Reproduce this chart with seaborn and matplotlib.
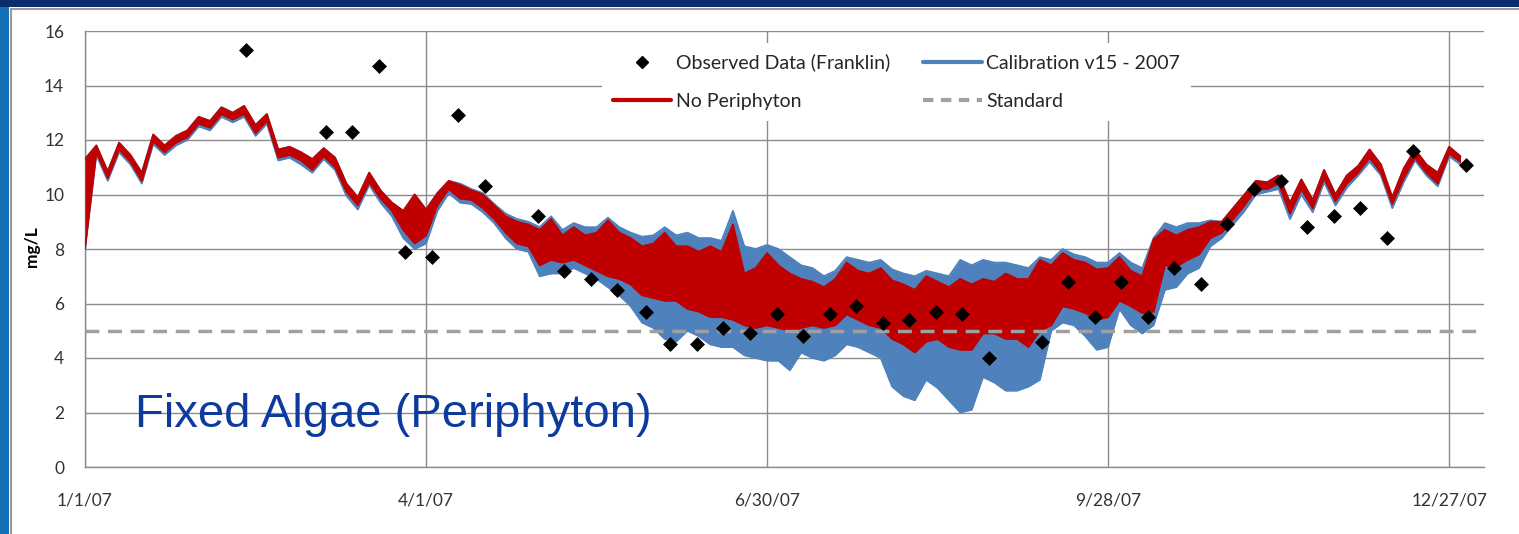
import matplotlib
matplotlib.use("Agg")
import matplotlib.pyplot as plt
from matplotlib.lines import Line2D
from matplotlib.patches import Rectangle
import seaborn as sns
import pandas as pd
import numpy as np

# ---------------- data ----------------
base_date = pd.Timestamp("2007-01-01")
model_step_days = 3          # model series sampled every 3 days from 1/1/07
n_model = 122

red_lo = [
    8.0, 11.55, 10.6, 11.65, 11.2, 10.5, 11.95, 11.55, 11.9, 12.1,
    12.6, 12.45, 12.95, 12.75, 12.95, 12.25, 12.7, 11.35, 11.45, 11.25,
    10.9, 11.4, 11.0, 10.1, 9.6, 10.45, 9.85, 9.4, 8.7, 8.2,
    8.5, 9.6, 10.2, 9.85, 9.8, 9.5, 9.1, 8.6, 8.2, 8.1,
    7.4, 7.6, 7.5, 7.6, 7.4, 7.2, 7.0, 6.9, 6.7, 6.3,
    6.2, 6.1, 6.1, 5.8, 5.7, 5.5, 5.5, 5.4, 5.2, 5.1,
    5.2, 5.1, 5.0, 5.1, 5.2, 5.1, 5.2, 5.6, 5.4, 5.2,
    5.1, 4.7, 4.5, 4.2, 4.6, 4.7, 4.4, 4.3, 4.3, 4.9,
    4.9, 4.7, 4.7, 4.4, 5.0, 5.2, 5.9, 5.8, 5.65, 5.4,
    5.5, 6.1, 5.9, 5.65, 5.7, 7.4, 7.35, 7.6, 7.8, 8.4,
    8.6, 9.1, 9.6, 10.2, 10.2, 10.4, 9.3, 10.2, 9.5, 10.6,
    9.75, 10.4, 10.8, 11.35, 10.8, 9.65, 10.6, 11.35, 10.8, 10.4,
    11.5, 11.2,
]
red_hi = [
    11.3, 11.8, 10.85, 11.9, 11.45, 10.8, 12.2, 11.8, 12.15, 12.35,
    12.85, 12.7, 13.2, 13.0, 13.25, 12.55, 12.95, 11.65, 11.75, 11.55,
    11.3, 11.7, 11.35, 10.4, 9.9, 10.8, 10.15, 9.7, 9.4, 10.0,
    9.45, 10.05, 10.5, 10.35, 10.15, 10.0, 9.6, 9.2, 9.0, 8.9,
    8.7, 9.1, 8.5, 8.8, 8.5, 8.6, 9.05, 8.6, 8.4, 8.1,
    8.2, 8.6, 8.1, 8.1, 7.9, 8.1, 7.9, 8.9, 7.1, 7.3,
    7.85, 7.4, 7.1, 6.9, 6.8, 6.6, 6.9, 7.5, 7.2, 7.1,
    7.3, 6.85, 6.7, 6.5, 7.0, 6.8, 6.6, 6.9, 6.7, 6.9,
    6.8, 7.1, 6.9, 6.9, 7.6, 7.4, 7.85, 7.6, 7.5, 7.25,
    7.3, 7.7, 7.2, 7.0, 8.35, 8.7, 8.5, 8.7, 8.8, 9.0,
    9.0, 9.5, 10.0, 10.5, 10.45, 10.7, 9.7, 10.55, 9.8, 10.9,
    10.0, 10.7, 11.05, 11.65, 11.1, 9.9, 10.95, 11.65, 11.1, 10.8,
    11.75, 11.4,
]
blue_lo = [
    8.0, 11.45, 10.5, 11.55, 11.1, 10.4, 11.85, 11.45, 11.8, 12.0,
    12.5, 12.35, 12.85, 12.65, 12.85, 12.15, 12.6, 11.25, 11.35, 11.1,
    10.8, 11.3, 10.9, 9.95, 9.45, 10.35, 9.7, 9.2, 8.4, 8.0,
    8.2, 9.4, 10.05, 9.7, 9.65, 9.35, 8.95, 8.4, 8.0, 7.9,
    7.0, 7.1, 7.1, 7.3, 7.1, 6.9, 6.6, 6.3, 5.9, 5.3,
    5.1, 4.7, 4.6, 5.0, 4.8, 4.5, 4.4, 4.4, 4.1, 4.0,
    3.9, 3.9, 3.55, 4.2, 4.0, 3.9, 4.1, 4.5, 4.4, 4.2,
    4.0, 2.95, 2.6, 2.45, 3.2, 2.9, 2.45, 2.0, 2.1, 3.3,
    3.1, 2.8, 2.8, 2.95, 3.2, 5.0, 5.3, 5.2, 4.8, 4.3,
    4.4, 5.8, 5.2, 4.9, 5.2, 6.5, 6.6, 7.1, 7.3, 8.1,
    8.4, 8.9, 9.4, 10.0, 10.1, 10.2, 9.1, 10.0, 9.35, 10.45,
    9.6, 10.25, 10.7, 11.2, 10.7, 9.5, 10.45, 11.25, 10.7, 10.3,
    11.4, 11.1,
]
blue_hi = [
    11.3, 11.8, 10.85, 11.9, 11.45, 10.8, 12.2, 11.8, 12.15, 12.35,
    12.85, 12.7, 13.2, 13.0, 13.25, 12.55, 12.95, 11.65, 11.75, 11.55,
    11.3, 11.7, 11.35, 10.4, 9.9, 10.8, 10.15, 9.7, 9.4, 10.0,
    9.45, 10.05, 10.5, 10.4, 10.2, 10.05, 9.65, 9.3, 9.1, 9.0,
    8.8, 9.2, 8.7, 8.95, 8.8, 8.8, 9.15, 8.8, 8.6, 8.45,
    8.5, 8.8, 8.5, 8.6, 8.4, 8.4, 8.3, 9.4, 8.1, 8.0,
    8.15, 8.0, 7.7, 7.4, 7.3, 7.0, 7.2, 7.7, 7.6, 7.5,
    7.6, 7.25, 7.1, 7.0, 7.2, 7.1, 7.0, 7.6, 7.4, 7.6,
    7.5, 7.5, 7.4, 7.3, 7.7, 7.6, 8.0, 7.8, 7.7, 7.5,
    7.5, 7.85, 7.5, 7.3, 8.4, 8.95, 8.8, 8.95, 8.95, 9.05,
    9.0, 9.5, 10.0, 10.5, 10.45, 10.7, 9.7, 10.55, 9.8, 10.9,
    10.0, 10.7, 11.05, 11.65, 11.1, 9.9, 10.95, 11.65, 11.1, 10.8,
    11.75, 11.4,
]

obs_day = [42.5, 63.5, 70.5, 77.5, 84.5, 91.5, 98.5, 105.5,
           119.5, 126.5, 133.5, 140.5, 148.0, 154.5, 161.5, 168.5, 175.5, 182.5,
           189.5, 196.5, 203.5, 210.5, 217.5, 224.5, 231.5, 238.5,
           252.5, 259.5, 266.5, 273.5, 280.5, 287.5, 294.5,
           301.5, 308.5, 315.5, 322.5, 329.5, 336.5, 343.5, 350.5, 364.5]
obs_val = [15.3, 12.3, 12.3, 14.7, 7.9, 7.7, 12.9, 10.3,
           9.2, 7.2, 6.9, 6.5, 5.7, 4.5, 4.5, 5.1, 4.9, 5.6,
           4.8, 5.6, 5.9, 5.3, 5.4, 5.7, 5.6, 4.0,
           4.6, 6.8, 5.5, 6.8, 5.5, 7.3, 6.7,
           8.9, 10.2, 10.5, 8.8, 9.2, 9.5, 8.4, 11.6, 11.1]

standard_value = 5.0
tick_days = [0, 90, 180, 270, 360]
tick_labels = ["1/1/07", "4/1/07", "6/30/07", "9/28/07", "12/27/07"]
y_ticks = [0, 2, 4, 6, 8, 10, 12, 14, 16]

# ---------------- styling ----------------
sns.set_theme(style="white")
plt.rcParams["font.family"] = ["Lato", "DejaVu Sans"]

BLUE = "#4F81BD"
RED = "#C00000"
GRID = "#8C8C8C"

model_dates = pd.date_range(base_date, periods=n_model, freq=f"{model_step_days}D")
obs_dates = base_date + pd.to_timedelta(obs_day, unit="D")
df = pd.DataFrame({"date": model_dates, "red_lo": red_lo, "red_hi": red_hi,
                   "blue_lo": blue_lo, "blue_hi": blue_hi})
obs = pd.DataFrame({"date": obs_dates, "value": obs_val})

fig = plt.figure(figsize=(15.19, 5.34), dpi=100)
fig.patch.set_facecolor("white")

# slide decorations
fig.patches.append(Rectangle((0, 1 - 7 / 534), 1, 7 / 534, transform=fig.transFigure,
                             facecolor="#0A2D6E", edgecolor="none", zorder=0))
fig.patches.append(Rectangle((0, 0), 9 / 1519, 1 - 7 / 534, transform=fig.transFigure,
                             facecolor="#1670B6", edgecolor="none", zorder=0))
fig.lines.append(Line2D([11 / 1519, 11 / 1519], [0, 1 - 8.5 / 534], transform=fig.transFigure,
                        color="#9A9A9A", lw=1.5))
fig.lines.append(Line2D([11 / 1519, 1], [1 - 8.5 / 534, 1 - 8.5 / 534], transform=fig.transFigure,
                        color="#9A9A9A", lw=1.5))

ax = fig.add_axes([85 / 1519, 1 - 467 / 534, 1399 / 1519, 436 / 534])
ax.set_facecolor("white")

# calibration (blue) band
ax.fill_between(df["date"], df["blue_lo"], df["blue_hi"], color=BLUE, lw=0, zorder=2)
sns.lineplot(data=df, x="date", y="blue_lo", color=BLUE, lw=1.3, estimator=None, ax=ax, zorder=2)
sns.lineplot(data=df, x="date", y="blue_hi", color=BLUE, lw=1.3, estimator=None, ax=ax, zorder=2)
# no periphyton (red) band
ax.fill_between(df["date"], df["red_lo"], df["red_hi"], color=RED, lw=0, zorder=3)
sns.lineplot(data=df, x="date", y="red_lo", color=RED, lw=1.3, estimator=None, ax=ax, zorder=3)
sns.lineplot(data=df, x="date", y="red_hi", color=RED, lw=1.3, estimator=None, ax=ax, zorder=3)
# standard
ax.axhline(standard_value, color="#A0A0A0", lw=2.5, linestyle=(0, (4, 2.5)), zorder=4)
# observed
sns.scatterplot(data=obs, x="date", y="value", marker="D", s=58, color="black",
                edgecolor="black", linewidth=0, ax=ax, zorder=5)

ax.set_xlim(base_date, base_date + pd.Timedelta(days=369.2))
ax.set_ylim(0, 16)
ax.set_xticks(base_date + pd.to_timedelta(tick_days, unit="D"))
ax.set_xticklabels(tick_labels)
ax.set_yticks(y_ticks)
ax.set_yticklabels([str(v) for v in y_ticks])
ax.set_xlabel("")
ax.set_ylabel("")

ax.grid(True, color=GRID, lw=1, zorder=0)
ax.set_axisbelow(True)
for s in ["top", "right"]:
    ax.spines[s].set_visible(False)
for s in ["left", "bottom"]:
    ax.spines[s].set_color(GRID)
    ax.spines[s].set_linewidth(1)
ax.tick_params(axis="both", which="major", direction="out", length=5, width=1,
               color=GRID, labelcolor="#333333", labelsize=12.5)
ax.tick_params(axis="y", pad=10)
ax.tick_params(axis="x", pad=13)

handles = [
    Line2D([], [], marker="D", color="black", linestyle="none", markersize=6.5),
    Line2D([], [], color=RED, lw=3),
    Line2D([], [], color=BLUE, lw=3),
    Line2D([], [], color="#A0A0A0", lw=3, linestyle=(0, (2.5, 1.8))),
]
labels = ["Observed Data (Franklin)", "No Periphyton", "Calibration v15 - 2007", "Standard"]
leg = fig.legend(handles, labels, ncol=2, loc="upper left",
                 bbox_to_anchor=(602 / 1519, 1 - 43 / 534), frameon=True,
                 facecolor="white", edgecolor="none", framealpha=1,
                 fontsize=14, handlelength=3.0, handletextpad=0.25,
                 columnspacing=1.7, labelspacing=1.1, borderpad=0.55,
                 borderaxespad=0)
leg.set_zorder(6)
for t in leg.get_texts():
    t.set_color("#262626")

fig.text(32 / 1519, 1 - 247 / 534, "mg/L", rotation=90, fontsize=12.5, fontweight="bold",
         ha="center", va="center", color="black")
fig.text(135 / 1519, 1 - 427 / 534, "Fixed Algae (Periphyton)", fontsize=34,
         family=["Liberation Sans", "DejaVu Sans"], color="#0D3A9E",
         ha="left", va="baseline", zorder=10)

fig.savefig("out.png", dpi=100, facecolor="white")
